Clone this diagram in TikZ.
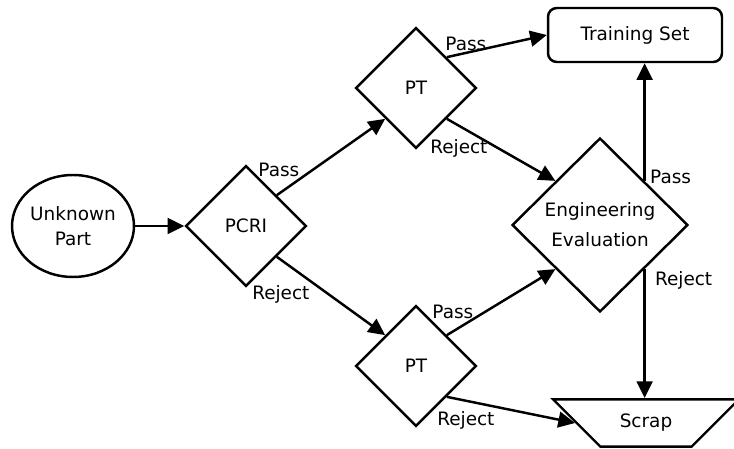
\documentclass[tikz,border=0pt]{standalone}
\usepackage{fontspec}
\setmainfont{DejaVu Sans}
\usetikzlibrary{shapes.geometric,arrows.meta}

\begin{document}
\begin{tikzpicture}[x=0.02cm,y=-0.02cm,line width=1.4pt,font=\fontsize{10.5}{13}\selectfont,>={Triangle[length=9.5pt,width=9pt]}]
	\useasboundingbox (0,0) rectangle (734,449);
	\begin{scope}[every node/.style={diamond,draw,inner sep=0pt,minimum width=2.42cm,minimum height=2.42cm}]
		\node (pcri) at (246,226) {PCRI};
		\node (pt1) at (416,88) {PT};
		\node (pt2) at (416,366) {PT};
		\node[align=center,minimum width=3.52cm,minimum height=3.48cm] (eng) at (600,225) {Engineering\\[4pt]Evaluation};
	\end{scope}
	\node[ellipse,draw,align=center,inner sep=0pt,minimum width=2.44cm,minimum height=2.04cm] (part) at (73,226) {Unknown\\[1pt]Part};
	\node[draw,rounded corners=5pt,minimum width=3.48cm,minimum height=1.08cm] (train) at (635,35) {Training Set};
	\node[trapezium,draw,trapezium left angle=135,trapezium right angle=135,inner xsep=11pt,inner ysep=8.5pt] (scrap) at (646,423) {Scrap};

	% connectors, labels sit near the start of each one
	\begin{scope}[every node/.style={inner sep=0pt}]
		\path [->] (part) edge (pcri);
		\path [->] (pcri.north east) edge node[at start,shift={(2,-25)}] {Pass} (pt1.south west);
		\path [->] (pcri.south east) edge node[at start,shift={(4,38)}] {Reject} (pt2.north west);
		\path [->] (pt1.north east) edge node[at start,shift={(19,-13)}] {Pass} (train.west);
		\path [->] (pt1.south east) edge node[at start,shift={(12,30)}] {Reject} (eng.north west);
		\path [->] (pt2.north east) edge node[at start,shift={(6,-23)}] {Pass} (eng.south west);
		\path [->] (pt2.south east) edge node[at start,shift={(19,24)}] {Reject} (scrap.west);
		\path [->] (eng.north east) edge node[at start,shift={(26,-4)}] {Pass} (eng.north east |- train.south);
		\path [->] (eng.south east) edge node[at start,shift={(39,11)}] {Reject} (eng.south east |- scrap.north);
	\end{scope}
\end{tikzpicture}
\end{document}
